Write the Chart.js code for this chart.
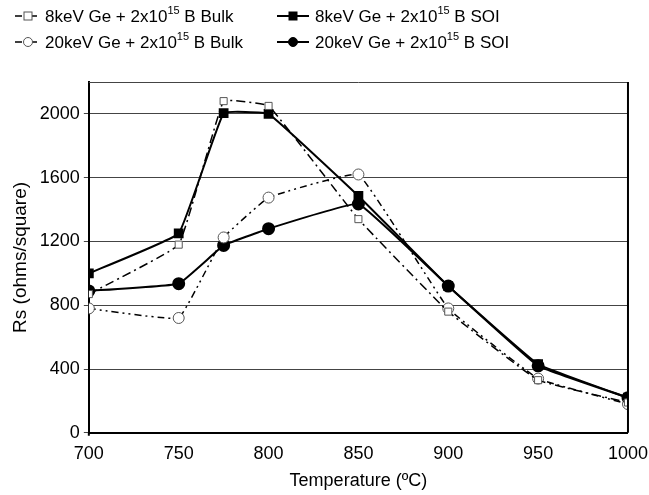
<!DOCTYPE html>
<html>
<head>
<meta charset="utf-8">
<script src="https://cdn.jsdelivr.net/npm/chart.js@4.4.1/dist/chart.umd.min.js"></script>
<style>
  html, body { margin: 0; padding: 0; background: #fff; }
  #wrap { position: relative; width: 649px; height: 495px; overflow: hidden; }
  #legend { position: absolute; left: 0; top: 0; width: 649px; font-family: "Liberation Sans", Arial, sans-serif; font-size: 17px; color: #000; }
  .item { position: absolute; display: flex; align-items: center; white-space: nowrap; }
  .item svg { margin-right: 5px; }
  sup { font-size: 11px; position: relative; top: -1px; }
</style>
</head>
<body>
<div id="wrap">
  <canvas id="rsChart" width="653" height="495"></canvas>
  <div id="legend"></div>
</div>
<script>
const temps = [700, 750, 775, 800, 850, 900, 950, 1000];
const bulk8 = [870, 1180, 2080, 2050, 1340, 760, 330, 190];
const soi8 = [1000, 1250, 2005, 2000, 1485, 920, 430, 220];
const bulk20 = [780, 720, 1225, 1475, 1620, 780, 340, 180];
const soi20 = [890, 935, 1175, 1280, 1435, 920, 420, 220];
const yTicks = [0, 400, 800, 1200, 1600, 2000];

const seriesNames = [
    '8keV Ge + 2x10<sup>15</sup> B Bulk',
    '20keV Ge + 2x10<sup>15</sup> B Bulk',
    '8keV Ge + 2x10<sup>15</sup> B SOI',
    '20keV Ge + 2x10<sup>15</sup> B SOI'
];

function pts(values) {
    return values.map((v, i) => ({ x: temps[i], y: v }));
}

// Draws the box round the plot area (top edge grey like the grid)
const boxPlugin = {
    id: 'box',
    afterDraw(chart) {
        const { ctx, chartArea: a } = chart;
        ctx.save();
        ctx.lineWidth = 1;
        ctx.strokeStyle = '#444';
        ctx.beginPath();
        ctx.moveTo(a.left, a.top + 0.5);
        ctx.lineTo(a.right, a.top + 0.5);
        ctx.stroke();
        ctx.lineWidth = 2;
        ctx.strokeStyle = '#000';
        ctx.beginPath();
        ctx.moveTo(a.right, a.top);
        ctx.lineTo(a.right, a.bottom);
        ctx.moveTo(a.left, a.bottom);
        ctx.lineTo(a.left, a.bottom + 3);
        ctx.stroke();
        ctx.restore();
    }
};

const font = { family: '"Liberation Sans", Arial, sans-serif', size: 18 };

new Chart(document.getElementById('rsChart'), {
    type: 'line',
    data: {
        datasets: [
            {
                label: '8keV Bulk', data: pts(bulk8),
                borderColor: '#000', borderWidth: 1.5, borderDash: [9, 4, 2, 4],
                pointStyle: 'rect', pointRadius: 5, pointBackgroundColor: '#fff',
                pointBorderColor: '#555', pointBorderWidth: 1, tension: 0.08
            },
            {
                label: '20keV Bulk', data: pts(bulk20),
                borderColor: '#000', borderWidth: 1.5, borderDash: [7, 4, 2, 4, 2, 4],
                pointStyle: 'circle', pointRadius: 5.5, pointBackgroundColor: '#fff',
                pointBorderColor: '#555', pointBorderWidth: 1, tension: 0.08
            },
            {
                label: '8keV SOI', data: pts(soi8),
                borderColor: '#000', borderWidth: 2,
                pointStyle: 'rect', pointRadius: 5.5, pointBackgroundColor: '#000',
                pointBorderColor: '#000', tension: 0.08
            },
            {
                label: '20keV SOI', data: pts(soi20),
                borderColor: '#000', borderWidth: 2,
                pointStyle: 'circle', pointRadius: 5.5, pointBackgroundColor: '#000',
                pointBorderColor: '#000', tension: 0.08
            }
        ]
    },
    options: {
        responsive: false,
        animation: false,
        layout: { padding: { top: 82, right: 0, left: 5, bottom: 1 } },
        plugins: { legend: { display: false }, tooltip: { enabled: false } },
        scales: {
            x: {
                type: 'linear', min: 700, max: 1000,
                ticks: { stepSize: 50, color: '#000', font: font, padding: 5, callback: v => String(v) },
                grid: { drawOnChartArea: false, tickColor: 'rgba(0,0,0,0)', tickLength: 5 },
                border: { color: '#000', width: 2 },
                title: { display: true, text: 'Temperature (ºC)', color: '#000', font: font, padding: { top: 1, bottom: 2 } }
            },
            y: {
                min: 0, max: 2200,
                afterBuildTicks: s => { s.ticks = yTicks.map(v => ({ value: v })); },
                ticks: { color: '#000', font: font, padding: 4, callback: v => String(v) },
                grid: { color: '#444', lineWidth: 1, tickLength: 5 },
                border: { color: '#000', width: 2 },
                title: { display: true, text: 'Rs (ohms/square)', color: '#000', font: { family: font.family, size: 19 } }
            }
        }
    },
    plugins: [boxPlugin]
});

// Legend as HTML so the exponent stays real superscript text
const legendPos = [[14, 4], [14, 30], [276, 4], [276, 30]];
const legendSym = [
    { dash: '7 3 2 3', marker: 'rect', fill: '#fff' },
    { dash: '7 3 2 3', marker: 'circle', fill: '#fff' },
    { dash: '', marker: 'rect', fill: '#000' },
    { dash: '', marker: 'circle', fill: '#000' }
];
const legend = document.getElementById('legend');
seriesNames.forEach((name, i) => {
    const s = legendSym[i];
    const solid = s.dash === '';
    const w = solid ? 34 : 26;
    const mx = solid ? 17 : 14;
    const mk = s.marker === 'rect'
        ? `<rect x="${mx - 4}" y="8" width="8" height="8" fill="${s.fill}" stroke="${solid ? '#000' : '#555'}" stroke-width="1"/>`
        : `<circle cx="${mx}" cy="12" r="4.5" fill="${s.fill}" stroke="${solid ? '#000' : '#555'}" stroke-width="1"/>`;
    const div = document.createElement('div');
    div.className = 'item';
    div.style.left = legendPos[i][0] + 'px';
    div.style.top = legendPos[i][1] + 'px';
    div.innerHTML = `<svg width="${w}" height="24"><line x1="1" y1="12" x2="${w - 1}" y2="12" stroke="#000" stroke-width="${solid ? 2 : 1.5}" ${solid ? '' : 'stroke-dasharray="' + s.dash + '"'}/>${mk}</svg><span>${name}</span>`;
    legend.appendChild(div);
});
</script>
</body>
</html>
